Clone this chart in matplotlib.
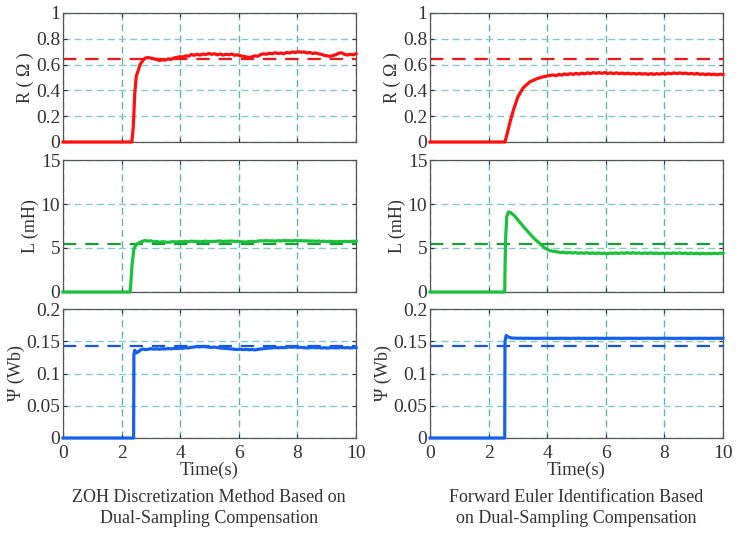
import numpy as np
import matplotlib
matplotlib.use('Agg')
import matplotlib.pyplot as plt

plt.rcParams['font.family'] = ['Liberation Serif', 'DejaVu Serif']
plt.rcParams['mathtext.fontset'] = 'stix'

# 기준값 (dashed reference)
R_ref = 0.64
L_ref = 5.5
psi_ref = 0.142

# ---- 좌측: ZOH discretization ----
zoh_R_rise_t = [0, 2.35, 2.40, 2.45, 2.50, 2.56, 2.63, 2.72, 2.80]
zoh_R_rise = [0, 0, 0.12, 0.38, 0.51, 0.55, 0.60, 0.63, 0.65]
zoh_R = [0.655, 0.650, 0.645, 0.640, 0.632, 0.638, 0.635, 0.645, 0.640, 0.652,
         0.655, 0.662, 0.658, 0.668, 0.665, 0.678, 0.672, 0.680, 0.674, 0.682,
         0.678, 0.686, 0.680, 0.684, 0.676, 0.682, 0.674, 0.680, 0.676, 0.682,
         0.672, 0.676, 0.668, 0.664, 0.660, 0.655, 0.660, 0.668, 0.664, 0.678,
         0.684, 0.680, 0.688, 0.684, 0.692, 0.686, 0.690, 0.684, 0.694, 0.690,
         0.698, 0.694, 0.700, 0.696, 0.698, 0.690, 0.694, 0.686, 0.690, 0.684,
         0.680, 0.672, 0.668, 0.664, 0.670, 0.676, 0.688, 0.692, 0.680, 0.674,
         0.680, 0.676, 0.684]

zoh_L_rise_t = [0, 2.29, 2.31, 2.36, 2.42, 2.50, 2.60, 2.70, 2.80]
zoh_L_rise = [0, 0, 0.8, 3.2, 4.9, 5.4, 5.6, 5.75, 5.85]
zoh_L = [5.78, 5.82, 5.70, 5.74, 5.66, 5.72, 5.68, 5.64, 5.70, 5.72,
         5.68, 5.74, 5.70, 5.76, 5.72, 5.78, 5.74, 5.76, 5.70, 5.74,
         5.78, 5.72, 5.76, 5.74, 5.78, 5.80, 5.74, 5.78, 5.76, 5.80,
         5.74, 5.76, 5.72, 5.70, 5.68, 5.74, 5.76, 5.72, 5.78, 5.82,
         5.80, 5.84, 5.80, 5.82, 5.78, 5.84, 5.80, 5.86, 5.82, 5.84,
         5.80, 5.86, 5.82, 5.84, 5.80, 5.82, 5.78, 5.80, 5.76, 5.80,
         5.74, 5.78, 5.72, 5.76, 5.74, 5.70, 5.74, 5.72, 5.76, 5.72,
         5.74, 5.76, 5.78]

zoh_psi_rise_t = [0, 2.41, 2.42, 2.45, 2.50, 2.58, 2.66, 2.74, 2.80]
zoh_psi_rise = [0, 0, 0.130, 0.136, 0.132, 0.134, 0.137, 0.138, 0.137]
zoh_psi = [0.1375, 0.1385, 0.1378, 0.1382, 0.1376, 0.1384, 0.1380, 0.1388, 0.1382, 0.1390,
           0.1386, 0.1394, 0.1390, 0.1400, 0.1396, 0.1406, 0.1410, 0.1418, 0.1412, 0.1420,
           0.1414, 0.1408, 0.1404, 0.1410, 0.1402, 0.1396, 0.1392, 0.1388, 0.1384, 0.1380,
           0.1376, 0.1372, 0.1376, 0.1370, 0.1374, 0.1368, 0.1372, 0.1366, 0.1374, 0.1380,
           0.1384, 0.1390, 0.1394, 0.1398, 0.1402, 0.1398, 0.1404, 0.1400, 0.1406, 0.1410,
           0.1406, 0.1412, 0.1408, 0.1404, 0.1400, 0.1396, 0.1400, 0.1404, 0.1398, 0.1402,
           0.1396, 0.1400, 0.1394, 0.1398, 0.1402, 0.1396, 0.1400, 0.1404, 0.1398, 0.1402,
           0.1396, 0.1400, 0.1402]

# ---- 우측: Forward Euler ----
fe_R_rise_t = [0, 2.56, 2.65, 2.75, 2.85, 3.00, 3.18, 3.40, 3.64, 3.82, 4.00]
fe_R_rise = [0, 0, 0.08, 0.17, 0.25, 0.35, 0.42, 0.465, 0.49, 0.503, 0.512]
fe_R = [0.516, 0.520, 0.514, 0.524, 0.518, 0.528, 0.522, 0.530, 0.524, 0.532,
        0.526, 0.534, 0.528, 0.536, 0.530, 0.538, 0.532, 0.538, 0.532, 0.538,
        0.532, 0.536, 0.530, 0.536, 0.530, 0.534, 0.528, 0.534, 0.528, 0.532,
        0.526, 0.532, 0.526, 0.530, 0.524, 0.530, 0.524, 0.530, 0.526, 0.532,
        0.526, 0.534, 0.528, 0.536, 0.530, 0.536, 0.530, 0.534, 0.528, 0.532,
        0.526, 0.532, 0.524, 0.528, 0.522, 0.528, 0.522, 0.526, 0.520, 0.526,
        0.522]

fe_L_rise_t = [0, 2.55, 2.56, 2.58, 2.62, 2.68, 2.76, 2.90, 3.07, 3.25, 3.41, 3.58, 3.75, 3.92, 4.09, 4.26]
fe_L_rise = [0, 0, 2.5, 6.0, 8.6, 9.1, 9.0, 8.6, 7.9, 7.2, 6.6, 6.0, 5.5, 5.0, 4.7, 4.6]
fe_L = [4.55, 4.48, 4.52, 4.44, 4.50, 4.42, 4.48, 4.40, 4.46, 4.40,
        4.46, 4.38, 4.44, 4.38, 4.44, 4.36, 4.42, 4.36, 4.42, 4.38,
        4.44, 4.38, 4.44, 4.40, 4.46, 4.40, 4.46, 4.40, 4.44, 4.38,
        4.44, 4.38, 4.44, 4.38, 4.42, 4.36, 4.42, 4.36, 4.42, 4.38,
        4.44, 4.38, 4.44, 4.38, 4.42, 4.36, 4.42, 4.36, 4.40, 4.34,
        4.40, 4.34, 4.40, 4.34, 4.40, 4.36, 4.42, 4.38]

fe_psi_rise_t = [0, 2.55, 2.56, 2.60, 2.66, 2.74, 2.80]
fe_psi_rise = [0, 0, 0.150, 0.159, 0.157, 0.1555, 0.1550]
fe_psi = [0.1548, 0.1546, 0.1548, 0.1545, 0.1547, 0.1545, 0.1546, 0.1544, 0.1546, 0.1545,
          0.1547, 0.1545, 0.1546, 0.1544, 0.1546, 0.1545, 0.1547, 0.1545, 0.1546, 0.1544,
          0.1546, 0.1545, 0.1547, 0.1545, 0.1546, 0.1544, 0.1546, 0.1545, 0.1547, 0.1545,
          0.1546, 0.1544, 0.1546, 0.1545, 0.1547, 0.1545, 0.1546, 0.1544, 0.1546, 0.1545,
          0.1547, 0.1545, 0.1546, 0.1544, 0.1546, 0.1545, 0.1547, 0.1545, 0.1546, 0.1544,
          0.1546, 0.1545, 0.1547, 0.1545, 0.1546, 0.1544, 0.1546, 0.1545, 0.1547, 0.1545,
          0.1546, 0.1544, 0.1546, 0.1545, 0.1547, 0.1545, 0.1546, 0.1544, 0.1546, 0.1545,
          0.1546, 0.1545, 0.1546]

captions = ['ZOH Discretization Method Based on\nDual-Sampling Compensation',
            'Forward Euler Identification Based\non Dual-Sampling Compensation']


def series(rise_t, rise_v, tail):
    # tail 구간은 rise 끝 뒤부터 10 s 까지 고르게
    t_tail = np.linspace(rise_t[-1] + 0.1, 10, len(tail))
    return np.r_[rise_t, t_tail], np.r_[rise_v, tail]


red, green, blue = '#ff1010', '#19c23a', '#1560ee'
dred, dgreen, dblue = '#ee1818', '#1f9a3a', '#1a55dd'

cols = [
    [(zoh_R_rise_t, zoh_R_rise, zoh_R), (zoh_L_rise_t, zoh_L_rise, zoh_L), (zoh_psi_rise_t, zoh_psi_rise, zoh_psi)],
    [(fe_R_rise_t, fe_R_rise, fe_R), (fe_L_rise_t, fe_L_rise, fe_L), (fe_psi_rise_t, fe_psi_rise, fe_psi)],
]
refs = [R_ref, L_ref, psi_ref]
line_cols = [red, green, blue]
ref_cols = [dred, dgreen, dblue]
ylims = [(0, 1), (0, 15), (0, 0.2)]
yticks = [[0, 0.2, 0.4, 0.6, 0.8, 1], [0, 5, 10, 15], [0, 0.05, 0.1, 0.15, 0.2]]
ytlabels = [['0', '0.2', '0.4', '0.6', '0.8', '1'], ['0', '5', '10', '15'],
            ['0', '0.05', '0.1', '0.15', '0.2']]
ylabels = ['R ( Ω )', 'L (mH)', 'Ψ (Wb)']

fig = plt.figure(figsize=(7.41, 5.39), dpi=100)
W, H = 741, 539
lefts = [63, 430]
rows = [(13, 142), (160, 292), (309, 438)]

for c in range(2):
    for r in range(3):
        top, bot = rows[r]
        ax = fig.add_axes([lefts[c] / W, 1 - bot / H, 293 / W, (bot - top) / H])
        t, v = series(*cols[c][r])
        ax.plot(t, v, color=line_cols[r], lw=2.3, clip_on=False, zorder=3)
        ax.axhline(refs[r], color=ref_cols[r], lw=1.6, ls=(0, (6, 4)), zorder=2)
        ax.set_xlim(0, 10)
        ax.set_ylim(*ylims[r])
        ax.set_xticks([0, 2, 4, 6, 8, 10])
        ax.set_yticks(yticks[r])
        ax.set_yticklabels(ytlabels[r])
        ax.xaxis.grid(True, color='#62b4b4', ls=(0, (5, 3)), lw=1.0)
        ax.yaxis.grid(True, color='#86caca', ls=(0, (5, 3)), lw=1.0)
        ax.tick_params(direction='in', length=3, width=0.8, colors='#333333',
                       labelsize=14, top=True, right=True, pad=2)
        ax.tick_params(axis='x', pad=5)
        for s in ax.spines.values():
            s.set_color('#555555')
            s.set_linewidth(0.9)
        ax.set_ylabel(ylabels[r], fontsize=13, color='#333333', labelpad=1)
        if r < 2:
            ax.tick_params(labelbottom=False)
        else:
            ax.set_xlabel('Time(s)', fontsize=13.5, color='#333333', labelpad=0)
    cx = (lefts[c] + 146) / W
    fig.text(cx, 1 - 508 / H, captions[c], ha='center', va='center',
             fontsize=13, color='#333333', linespacing=1.25)

fig.savefig('out.png', dpi=100)
